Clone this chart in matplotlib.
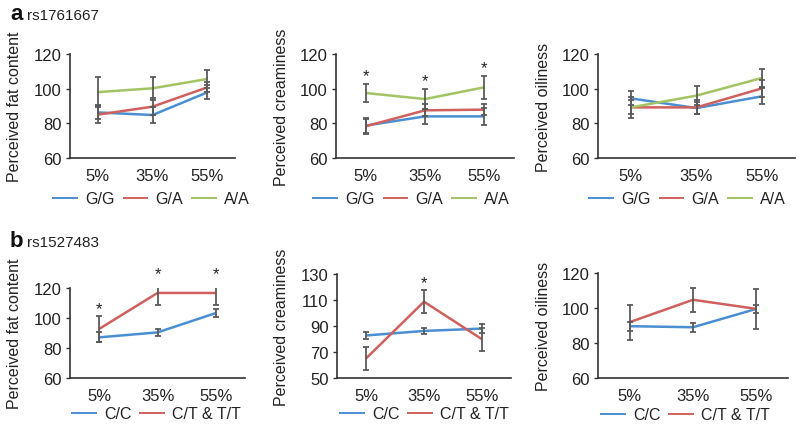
import matplotlib
matplotlib.use("Agg")
import matplotlib.pyplot as plt

plt.rcParams['font.family'] = ['Liberation Sans', 'DejaVu Sans']

categories = ["5%", "35%", "55%"]

# Panel a: rs1761667
a_labels = ["G/G", "G/A", "A/A"]
a_fat = [[86.3, 84.8, 97.9], [85.0, 89.6, 100.8], [98.0, 100.2, 105.6]]
a_fat_err = [[4.0, 4.5, 4.0], [5.0, 5.0, 3.0], [8.5, 6.5, 5.0]]
a_fat_sig = [False, False, False]

a_cream = [[78.7, 84.0, 84.0], [78.3, 87.5, 87.9], [97.5, 94.0, 100.8]]
a_cream_err = [[4.0, 4.5, 5.0], [4.5, 3.5, 3.3], [5.3, 6.0, 6.5]]
a_cream_sig = [True, True, True]

a_oil = [[94.4, 88.8, 95.6], [89.2, 89.2, 100.2], [89.2, 96.0, 106.2]]
a_oil_err = [[4.0, 3.5, 4.5], [4.0, 4.0, 5.0], [6.0, 5.5, 5.0]]
a_oil_sig = [False, False, False]

# Panel b: rs1527483
b_labels = ["C/C", "C/T & T/T"]
b_fat = [[87.1, 90.4, 103.3], [92.7, 116.7, 116.7]]
b_fat_err = [[3.3, 2.5, 2.4], [8.5, 7.7, 7.8]]
b_fat_sig = [True, True, True]

b_cream = [[82.7, 86.2, 88.0], [65.0, 108.7, 79.8]]
b_cream_err = [[2.5, 2.0, 3.5], [9.0, 8.7, 9.0]]
b_cream_sig = [False, True, False]

b_oil = [[89.6, 89.0, 99.5], [91.9, 104.7, 99.5]]
b_oil_err = [[2.5, 2.5, 2.5], [10.0, 7.0, 11.5]]
b_oil_sig = [False, False, False]

ylabels = ["Perceived fat content", "Perceived creaminess", "Perceived oiliness"]

colors_a = ["#4A8FD2", "#D0605E", "#A2C462"]
colors_b = ["#4A8FD2", "#D0605E"]

W, H = 800, 431
fig = plt.figure(figsize=(8, 4.31), dpi=100)


def px_axes(x0, x1, ytop, ybot):
    return [x0 / W, 1 - ybot / H, (x1 - x0) / W, (ybot - ytop) / H]


panels = [
    # rect px, data, err, sig, labels, colors, ylim, yticks, ylabel idx, ylabel x px, legend center px
    ((70, 235, 55, 159), a_fat, a_fat_err, a_fat_sig, a_labels, colors_a, (60, 120), [60, 80, 100, 120], 0, 14, (151, 200)),
    ((336, 514, 55, 159), a_cream, a_cream_err, a_cream_sig, a_labels, colors_a, (60, 120), [60, 80, 100, 120], 1, 282, (411, 200)),
    ((598, 795, 55, 159), a_oil, a_oil_err, a_oil_sig, a_labels, colors_a, (60, 120), [60, 80, 100, 120], 2, 543, (687, 200)),
    ((70, 245, 289, 379), b_fat, b_fat_err, b_fat_sig, b_labels, colors_b, (60, 120), [60, 80, 100, 120], 0, 15, (156, 415)),
    ((337, 511, 275, 379), b_cream, b_cream_err, b_cream_sig, b_labels, colors_b, (50, 130), [50, 70, 90, 110, 130], 1, 281, (424, 415)),
    ((598, 788, 274, 379), b_oil, b_oil_err, b_oil_sig, b_labels, colors_b, (60, 120), [60, 80, 100, 120], 2, 543, (685, 416)),
]

x = list(range(len(categories)))
axis_col = "#333333"
err_col = "#5a5a5a"

for rect, data, errs, sig, labels, cols, ylim, yticks, yl, ylx, legc in panels:
    x0, x1, yt, yb = rect
    ax = fig.add_axes(px_axes(x0, x1, yt, yb))
    handles = []
    for vals, col, lab in zip(data, cols, labels):
        h, = ax.plot(x, vals, color=col, lw=1.8, zorder=2, label=lab, solid_capstyle='butt')
        handles.append(h)
    for vals, e in zip(data, errs):
        ax.errorbar(x, vals, yerr=e, fmt='none', ecolor=err_col, elinewidth=1.3,
                    capsize=2.2, capthick=1.3, zorder=3)
    for i, s in enumerate(sig):
        if s:
            top = max(v[i] + e[i] for v, e in zip(data, errs))
            ax.annotate("*", (x[i], top), xytext=(0, 2.5), textcoords="offset points",
                        ha="center", va="baseline", fontsize=12, color="#222222",
                        annotation_clip=False)
    ax.set_xlim(-0.5, 2.5)
    ax.set_ylim(*ylim)
    ax.set_yticks(yticks)
    ax.set_xticks(x)
    ax.set_xticklabels(categories)
    for sp in ["top", "right"]:
        ax.spines[sp].set_visible(False)
    for sp in ["left", "bottom"]:
        ax.spines[sp].set_color(axis_col)
        ax.spines[sp].set_linewidth(1.2)
    ax.tick_params(axis="y", length=3, width=1.0, color=axis_col, labelsize=12,
                   labelcolor="#222222", pad=3)
    ax.tick_params(axis="x", length=0, labelsize=12, labelcolor="#222222", pad=7)
    ax.set_ylabel(ylabels[yl], fontsize=11.5, color="#222222", va="center")
    ax.yaxis.set_label_coords((ylx - x0) / (x1 - x0), 0.5)
    leg = ax.legend(handles=handles, loc="center", ncol=len(labels), frameon=False,
                    bbox_to_anchor=(legc[0] / W, 1 - legc[1] / H),
                    bbox_transform=fig.transFigure, fontsize=11.5,
                    handlelength=1.6, handletextpad=0.45, columnspacing=0.5,
                    borderpad=0, borderaxespad=0)
    for lh in leg.get_lines():
        lh.set_linewidth(1.4)
    for t in leg.get_texts():
        t.set_color("#222222")

# Panel titles
fig.text(10 / W, 1 - 20 / H, "a", fontsize=16, fontweight="bold", ha="left", va="baseline", color="#111111")
fig.text(27 / W, 1 - 20 / H, "rs1761667", fontsize=11, ha="left", va="baseline", color="#222222")
fig.text(10 / W, 1 - 247 / H, "b", fontsize=16, fontweight="bold", ha="left", va="baseline", color="#111111")
fig.text(27 / W, 1 - 247 / H, "rs1527483", fontsize=11, ha="left", va="baseline", color="#222222")

fig.savefig("out.png", dpi=100, facecolor="white")
